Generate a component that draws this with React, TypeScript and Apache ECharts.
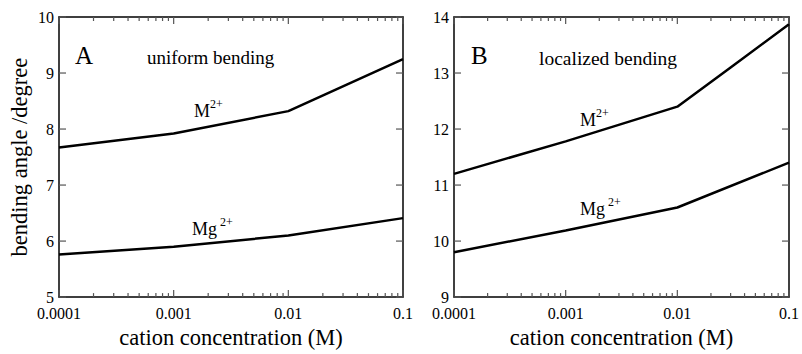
import React, { useEffect, useRef } from "react";
import * as echarts from "echarts";

// concentrations (M)
const concA = [0.0001, 0.001, 0.01, 0.1];
const mA = [7.67, 7.92, 8.32, 9.25];
const mgA = [5.76, 5.9, 6.1, 6.41];

const concBM = [0.0001, 0.001, 0.01, 0.03, 0.1];
const mB = [11.2, 11.78, 12.4, 13.1, 13.87];
const concBMg = [0.0001, 0.001, 0.01, 0.1];
const mgB = [9.8, 10.19, 10.6, 11.4];

const xTickLabels = ["0.0001", "0.001", "0.01", "0.1"];
const xMajorConc = [0.0001, 0.001, 0.01, 0.1];
const minorMultipliers = [2, 3, 4, 5, 6, 7, 8, 9];
const yTicksA = [5, 6, 7, 8, 9, 10];
const yTicksB = [9, 10, 11, 12, 13, 14];

const FONT = "Liberation Serif";

function toXY(conc: number[], vals: number[]) {
  return conc.map((c, i) => [Math.log10(c), vals[i]]);
}

export default function App() {
  const ref = useRef<HTMLDivElement>(null);
  useEffect(() => {
    if (!ref.current) return;
    const chart = echarts.init(ref.current, undefined, { renderer: "svg" });
    const axisLine = { show: true, onZero: false, lineStyle: { color: "#000", width: 1.5 } };
    const xMajor = xMajorConc.map((c) => Math.round(Math.log10(c)));
    const xAxes: any[] = [];
    const yAxes: any[] = [];
    const tickSeries: any[] = [];
    [0, 1].forEach((g) => {
      const yt = g === 0 ? yTicksA : yTicksB;
      const ymin = yt[0];
      const ymax = yt[yt.length - 1];
      xAxes.push({
        type: "value",
        gridIndex: g,
        min: -4,
        max: -1,
        interval: 1,
        position: "bottom",
        splitLine: { show: false },
        axisLine,
        axisTick: { show: false },
        axisLabel: {
          show: true,
          margin: 8,
          color: "#000",
          fontFamily: FONT,
          fontSize: 16,
          formatter: (v: number) => xTickLabels[xMajor.indexOf(Math.round(v))] ?? "",
        },
        name: "cation concentration (M)",
        nameLocation: "middle",
        nameGap: 25,
        nameTextStyle: { color: "#000", fontFamily: FONT, fontSize: 22.5 },
      });
      xAxes.push({
        type: "value",
        gridIndex: g,
        min: -4,
        max: -1,
        interval: 1,
        position: "top",
        splitLine: { show: false },
        axisLine,
        axisTick: { show: false },
        axisLabel: { show: false },
      });
      yAxes.push({
        type: "value",
        gridIndex: g,
        min: ymin,
        max: ymax,
        interval: 1,
        position: "left",
        splitLine: { show: false },
        axisLine,
        axisTick: { show: false },
        axisLabel: { show: true, margin: 5, color: "#000", fontFamily: FONT, fontSize: 16 },
        name: g === 0 ? "bending angle /degree" : "",
        nameLocation: "middle",
        nameGap: 28,
        nameTextStyle: { color: "#000", fontFamily: FONT, fontSize: 22.5 },
      });
      yAxes.push({
        type: "value",
        gridIndex: g,
        min: ymin,
        max: ymax,
        interval: 1,
        position: "right",
        splitLine: { show: false },
        axisLine,
        axisTick: { show: false },
        axisLabel: { show: false },
      });

      // tick data: [x, y, side, length]; side 0 bottom, 1 top, 2 left, 3 right
      const tickData: number[][] = [];
      const addX = (x: number, len: number) => {
        tickData.push([x, ymin, 0, len]);
        tickData.push([x, ymax, 1, len]);
      };
      xMajorConc.forEach((c) => addX(Math.log10(c), 7));
      xMajorConc.slice(0, -1).forEach((c) =>
        minorMultipliers.forEach((m) => addX(Math.log10(c * m), 4))
      );
      yt.forEach((v) => {
        tickData.push([-4, v, 2, 7]);
        tickData.push([-1, v, 3, 7]);
      });
      tickSeries.push({
        type: "custom",
        xAxisIndex: g * 2,
        yAxisIndex: g * 2,
        silent: true,
        clip: false,
        z: 5,
        data: tickData,
        renderItem: (params: any, api: any) => {
          const p = api.coord([api.value(0), api.value(1)]);
          const side = api.value(2);
          const len = api.value(3);
          const dx = side === 2 ? len : side === 3 ? -len : 0;
          const dy = side === 0 ? -len : side === 1 ? len : 0;
          return {
            type: "line",
            shape: { x1: p[0], y1: p[1], x2: p[0] + dx, y2: p[1] + dy },
            style: { stroke: "#555", lineWidth: 1.2 },
          };
        },
      });
    });

    const lineStyle = { color: "#000", width: 2.5 };
    const mk = (data: number[][], xi: number, yi: number) => ({
      type: "line",
      xAxisIndex: xi,
      yAxisIndex: yi,
      data,
      symbol: "none",
      lineStyle,
      silent: true,
      z: 3,
    });

    const superText = (main: string, sup: string, left: number, top: number, gap: number) => ({
      type: "text",
      left,
      top,
      style: {
        text: `{m|${main}}{s|${sup}}`,
        fill: "#000",
        rich: {
          m: { fontFamily: FONT, fontSize: 18, verticalAlign: "bottom", lineHeight: 22 },
          s: { fontFamily: FONT, fontSize: 12, verticalAlign: "top", lineHeight: 22, padding: [0, 0, 0, gap] },
        },
      },
    });
    const plain = (text: string, left: number, top: number, size: number) => ({
      type: "text",
      left,
      top,
      style: { text, fill: "#000", fontFamily: FONT, fontSize: size },
    });

    chart.setOption({
      animation: false,
      backgroundColor: "#fff",
      textStyle: { fontFamily: FONT },
      grid: [
        { left: 59, top: 17, width: 344, height: 285 },
        { left: 454, top: 17, width: 343, height: 285 },
      ],
      xAxis: xAxes,
      yAxis: yAxes,
      series: [
        mk(toXY(concA, mA), 0, 0),
        mk(toXY(concA, mgA), 0, 0),
        mk(toXY(concBM, mB), 2, 2),
        mk(toXY(concBMg, mgB), 2, 2),
        ...tickSeries,
      ],
      graphic: [
        plain("A", 75, 43, 25),
        plain("uniform bending", 147, 48, 19),
        plain("B", 471, 43, 25),
        plain("localized bending", 539, 48, 19.5),
        superText("M", "2+", 194, 98, 0),
        superText("Mg", "2+", 192, 216, 3),
        superText("M", "2+", 580, 107, 0),
        superText("Mg", "2+", 580, 196, 3),
      ],
    });
    return () => chart.dispose();
  }, []);
  return <div ref={ref} style={{ position: "fixed", left: 0, top: 0, width: 802, height: 354 }} />;
}
